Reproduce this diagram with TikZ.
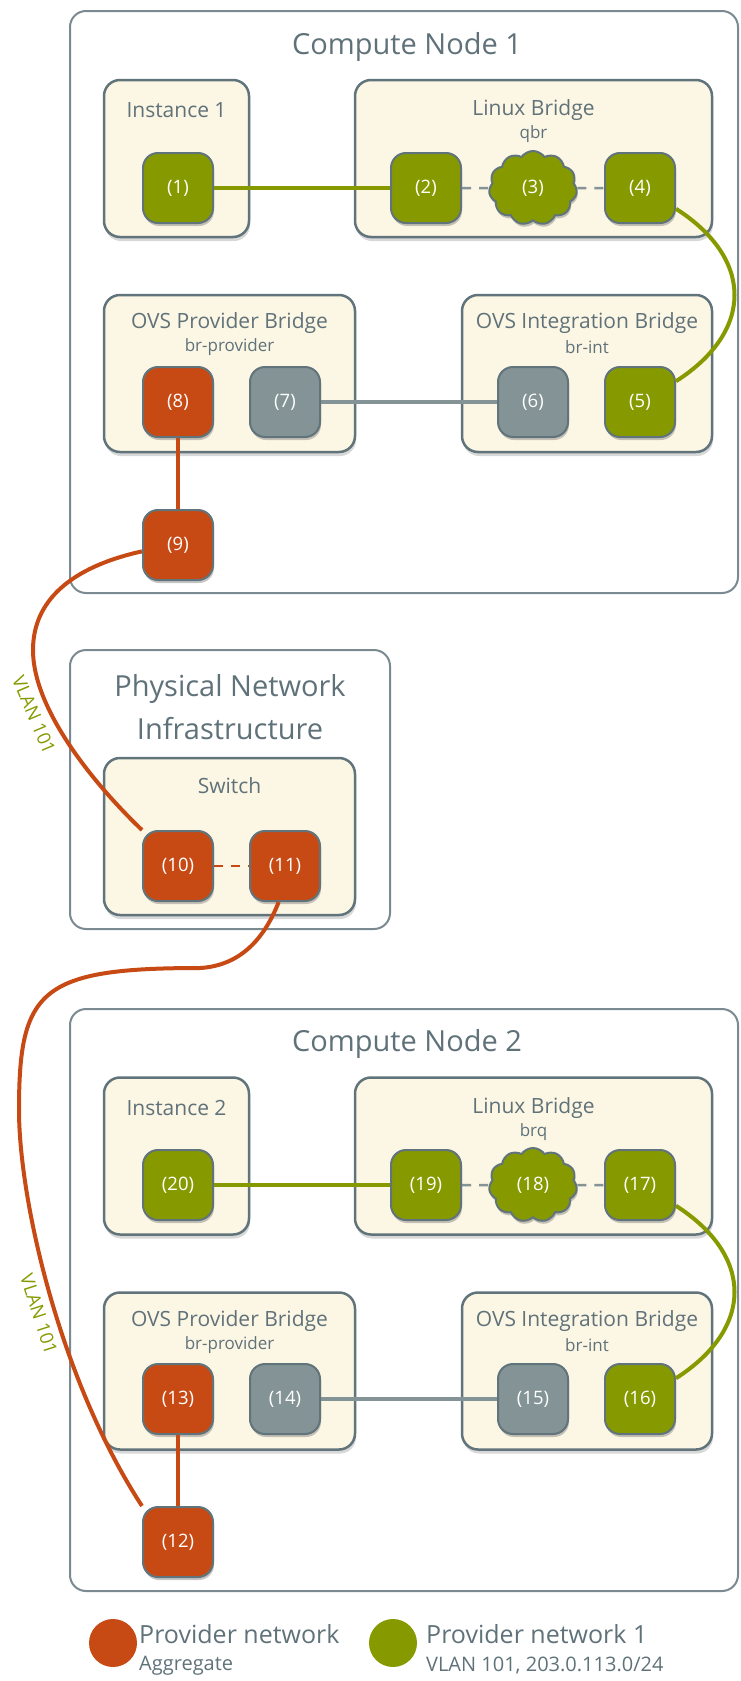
\documentclass[tikz,border=0pt]{standalone}
\usepackage{fontspec}
\setmainfont{Open Sans}
\usetikzlibrary{positioning,shapes.symbols,shadows}

\definecolor{provorange}{RGB}{199,74,21}
\definecolor{provgreen}{RGB}{134,154,0}
\definecolor{portgray}{RGB}{131,147,150}
\definecolor{edgegray}{RGB}{98,116,123}
\definecolor{hostgray}{RGB}{122,138,144}
\definecolor{boxfill}{RGB}{252,246,228}
\definecolor{textgray}{RGB}{96,114,121}

\tikzset{
  hostbox/.style={draw=hostgray,line width=2pt,rounded corners=16pt,fill=white},
  bridgebox/.style={draw=edgegray,line width=2.5pt,rounded corners=16pt,fill=boxfill,
    drop shadow={shadow xshift=1pt,shadow yshift=-4pt,opacity=0.3}},
  hosttitle/.style={text=textgray,font=\fontsize{29}{43}\selectfont,align=center},
  boxtitle/.style={text=textgray,font=\fontsize{21}{24}\selectfont},
  boxsub/.style={text=textgray,font=\fontsize{17}{20}\selectfont},
  portbase/.style={draw=edgegray,line width=2pt,rounded corners=15pt,
    minimum width=70,minimum height=70,text=white,font=\fontsize{18.5}{21}\selectfont,
    drop shadow={shadow xshift=1pt,shadow yshift=-3pt,opacity=0.45}},
  gport/.style={portbase,fill=provgreen},
  oport/.style={portbase,fill=provorange},
  sport/.style={portbase,fill=portgray},
  gcloud/.style={cloud,cloud puffs=11,cloud puff arc=110,aspect=1.25,
    minimum width=88,minimum height=74,draw=edgegray,line width=2pt,fill=provgreen,
    text=white,font=\fontsize{18.5}{21}\selectfont,
    drop shadow={shadow xshift=1pt,shadow yshift=-3pt,opacity=0.45}},
  greenline/.style={draw=provgreen,line width=4pt},
  orangeline/.style={draw=provorange,line width=4pt},
  grayline/.style={draw=portgray,line width=4.5pt},
  dashline/.style={draw=portgray,line width=2.5pt,dash pattern=on 9pt off 8pt},
  orangedash/.style={draw=provorange,line width=2.5pt,dash pattern=on 9pt off 8pt},
  vlanlabel/.style={text=provgreen,font=\fontsize{18.5}{21}\selectfont,inner sep=0pt},
  legendtitle/.style={text=textgray,font=\fontsize{25}{28}\selectfont,inner sep=0pt},
  legendsub/.style={text=textgray,font=\fontsize{20}{23}\selectfont,inner sep=0pt}
}

\begin{document}
\begin{tikzpicture}[x=1pt,y=-1pt,node distance=107pt]
\useasboundingbox (0,0) rectangle (740,1681);

% hosts
\node[hostbox,minimum width=668,minimum height=582] (cn1) at (404,302) {};
\node[hosttitle] (cn1t) at (407,47) {Compute Node 1};
\node[hostbox,minimum width=320,minimum height=279] (phys) at (230,789.5) {};
\node[hosttitle] (physt) at (230,707) {Physical Network\\Infrastructure};
\node[hostbox,minimum width=668,minimum height=582] (cn2) at (404,1300) {};
\node[hosttitle] (cn2t) at (407,1044) {Compute Node 2};

% bridges, compute node 1
\node[bridgebox,minimum width=145,minimum height=157] (inst1) at (176.5,158.5) {};
\node[boxtitle] (inst1t) at (176.5,110) {Instance 1};
\node[bridgebox,minimum width=357,minimum height=157] (qbr) at (533.5,158.5) {};
\node[boxtitle] (qbrt) at (533.5,110) {Linux Bridge};
\node[boxsub] (qbrs) at (533.5,134) {qbr};
\node[bridgebox,minimum width=251,minimum height=157] (brp1) at (229.5,373.5) {};
\node[boxtitle] (brp1t) at (229.5,323) {OVS Provider Bridge};
\node[boxsub] (brp1s) at (229.5,347) {br-provider};
\node[bridgebox,minimum width=250,minimum height=157] (bri1) at (587,373.5) {};
\node[boxtitle] (bri1t) at (587,323) {OVS Integration Bridge};
\node[boxsub] (bri1s) at (587,347) {br-int};

% switch
\node[bridgebox,minimum width=251,minimum height=157] (sw) at (229.5,836.5) {};
\node[boxtitle] (swt) at (229.5,786) {Switch};

% bridges, compute node 2
\node[bridgebox,minimum width=145,minimum height=157] (inst2) at (176.5,1156) {};
\node[boxtitle] (inst2t) at (176.5,1108) {Instance 2};
\node[bridgebox,minimum width=357,minimum height=157] (brq) at (533.5,1156) {};
\node[boxtitle] (brqt) at (533.5,1108) {Linux Bridge};
\node[boxsub] (brqs) at (533.5,1132) {brq};
\node[bridgebox,minimum width=251,minimum height=157] (brp2) at (229.5,1371) {};
\node[boxtitle] (brp2t) at (229.5,1321) {OVS Provider Bridge};
\node[boxsub] (brp2s) at (229.5,1345) {br-provider};
\node[bridgebox,minimum width=250,minimum height=157] (bri2) at (587,1371) {};
\node[boxtitle] (bri2t) at (587,1321) {OVS Integration Bridge};
\node[boxsub] (bri2s) at (587,1345) {br-int};

% ports
\node[gport] (p1) at (178,188) {(1)};
\node[gport] (p2) at (426,188) {(2)};
\node[gcloud,right of=p2] (p3) {(3)};
\node[gport,right of=p3] (p4) {(4)};
\node[oport] (p8) at (178,402) {(8)};
\node[sport,right of=p8] (p7) {(7)};
\node[sport] (p6) at (533,402) {(6)};
\node[gport,right of=p6] (p5) {(5)};
\node[oport] (p9) at (178,545) {(9)};
\node[oport] (p10) at (178,866) {(10)};
\node[oport,right of=p10] (p11) {(11)};
\node[gport] (p20) at (178,1185) {(20)};
\node[gport] (p19) at (426,1185) {(19)};
\node[gcloud,right of=p19] (p18) {(18)};
\node[gport,right of=p18] (p17) {(17)};
\node[oport] (p13) at (178,1399) {(13)};
\node[sport,right of=p13] (p14) {(14)};
\node[sport] (p15) at (533,1399) {(15)};
\node[gport,right of=p15] (p16) {(16)};
\node[oport] (p12) at (178,1542) {(12)};

% links
\draw[greenline] (p1) -- (p2);
\draw[dashline] (p2) -- (p3);
\draw[dashline] (p3) -- (p4);
\draw[greenline] (p4.-30) .. controls +(78,50) and +(78,-50) .. (p5.30);
\draw[grayline] (p7) -- (p6);
\draw[orangeline] (p8) -- (p9);
\draw[orangeline] (p9.190) .. controls (80,565) and (33,595) .. (33,650)
  .. controls (33,710) and (95,785) .. (p10.north west);
\draw[orangedash] (p10) -- (p11);
\draw[orangeline] (p11.-100) .. controls (262,945) and (235,966) .. (200,968)
  .. controls (40,968) and (19,990) .. (19,1110)
  .. controls (19,1200) and (60,1380) .. (p12.north west);
\draw[greenline] (p20) -- (p19);
\draw[dashline] (p19) -- (p18);
\draw[dashline] (p18) -- (p17);
\draw[greenline] (p17.-30) .. controls +(78,50) and +(78,-50) .. (p16.30);
\draw[grayline] (p14) -- (p15);
\draw[orangeline] (p13) -- (p12);

\node[vlanlabel,rotate=-67] (vlan1) at (34,715) {VLAN 101};
\node[vlanlabel,rotate=-72] (vlan2) at (39,1314) {VLAN 101};

% legend
\node[circle,fill=provorange,minimum size=48,inner sep=0pt] (legorange) at (113,1643) {};
\node[legendtitle,anchor=west] (legorangetitle) at (139,1634) {Provider network};
\node[legendsub,anchor=west] (legorangesub) at (139,1666) {Aggregate};
\node[circle,fill=provgreen,minimum size=48,inner sep=0pt] (leggreen) at (393,1643) {};
\node[legendtitle,anchor=west] (leggreentitle) at (426,1634) {Provider network 1};
\node[legendsub,anchor=west] (leggreensub) at (426,1666) {VLAN 101, 203.0.113.0/24};
\end{tikzpicture}
\end{document}
